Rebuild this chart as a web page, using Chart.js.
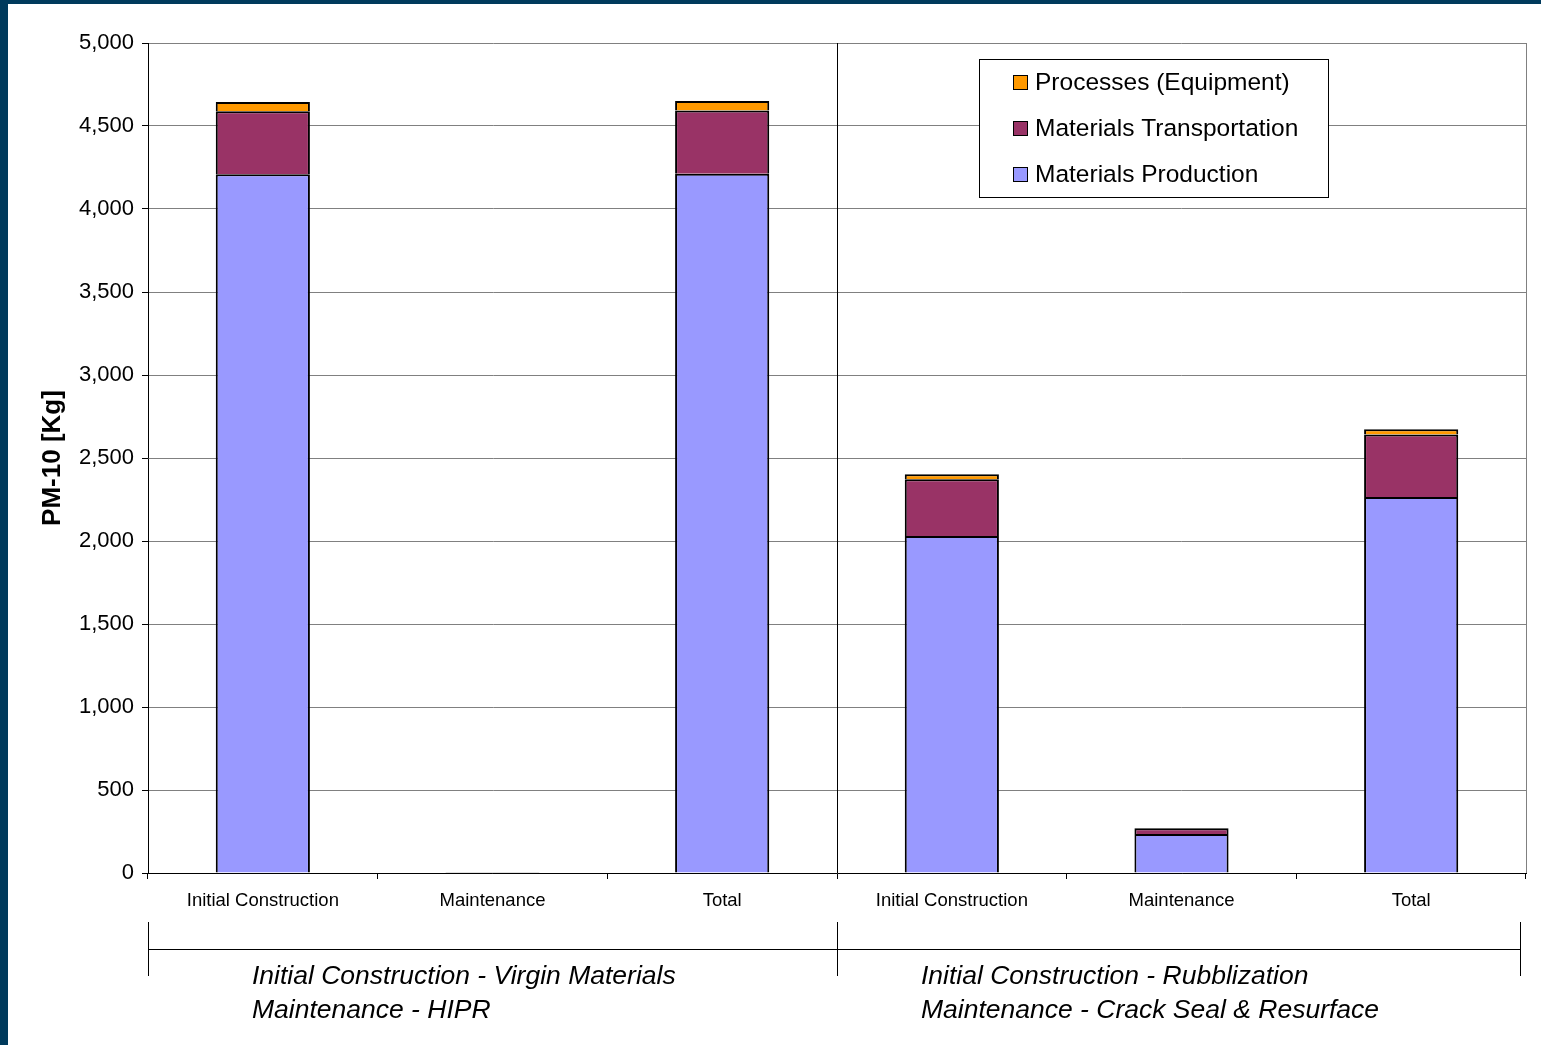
<!DOCTYPE html>
<html lang="en">

<head>
    <meta charset="UTF-8">
    <title>PM-10 Emissions by Phase</title>
    <script src="https://cdn.jsdelivr.net/npm/chart.js@4.4.0/dist/chart.umd.min.js"></script>
    <style>
        html, body {
            margin: 0;
            padding: 0;
            background-color: #003a5c;
            overflow: hidden;
        }

        .frame {
            position: absolute;
            left: 8px;
            top: 4px;
            width: 1533px;
            height: 1041px;
            background-color: #ffffff;
        }
    </style>
</head>

<body>
    <div class="frame">
        <canvas id="pmChart" width="1533" height="1041"></canvas>
    </div>

    <script>
        // categories along the x axis (two scenarios, three phases each)
        const categories = ['Initial Construction', 'Maintenance', 'Total',
            'Initial Construction', 'Maintenance', 'Total'];

        // PM-10 in kg, stacked bottom to top
        const materialsProduction = [4209, 3, 4212, 2030, 235, 2265];
        const materialsTransportation = [380, 2, 382, 342, 34, 376];
        const processesEquipment = [55, 1, 56, 30, 2, 32];

        const yTicks = [0, 500, 1000, 1500, 2000, 2500, 3000, 3500, 4000, 4500, 5000];

        const groupLabels = [
            ['Initial Construction - Virgin Materials', 'Maintenance - HIPR'],
            ['Initial Construction - Rubblization', 'Maintenance - Crack Seal & Resurface']
        ];

        const FONT = "'Liberation Sans', Arial, sans-serif";

        // divider, right border, group brackets, axis title and legend
        const extras = {
            id: 'extras',
            afterDraw(chart) {
                const ctx = chart.ctx;
                const area = chart.chartArea;
                const x = chart.scales.x;
                const mid = (x.getPixelForValue(2) + x.getPixelForValue(3)) / 2;

                ctx.save();
                // right border of the plot
                ctx.strokeStyle = '#808080';
                ctx.lineWidth = 1;
                ctx.beginPath();
                ctx.moveTo(area.right + 0.5, area.top);
                ctx.lineTo(area.right + 0.5, area.bottom);
                ctx.stroke();

                // scenario divider
                ctx.strokeStyle = '#000000';
                ctx.beginPath();
                ctx.moveTo(Math.round(mid) + 0.5, area.top);
                ctx.lineTo(Math.round(mid) + 0.5, area.bottom);
                ctx.stroke();

                // group brackets under the axis
                const by = 945.5;
                const bx = [area.left, Math.round(mid), area.right - 6];
                ctx.beginPath();
                ctx.moveTo(bx[0], by);
                ctx.lineTo(bx[2], by);
                bx.forEach(px => {
                    ctx.moveTo(px + 0.5, 918);
                    ctx.lineTo(px + 0.5, 972);
                });
                ctx.stroke();

                ctx.fillStyle = '#000000';
                ctx.font = 'italic 26.5px ' + FONT;
                ctx.textAlign = 'left';
                ctx.textBaseline = 'alphabetic';
                const gx = [area.left + 104, Math.round(mid) + 84];
                groupLabels.forEach((lines, i) => {
                    ctx.fillText(lines[0], gx[i], 980);
                    ctx.fillText(lines[1], gx[i], 1014);
                });

                // y axis title
                ctx.save();
                ctx.translate(45, (area.top + area.bottom) / 2);
                ctx.rotate(-Math.PI / 2);
                ctx.font = 'bold 26px ' + FONT;
                ctx.textAlign = 'center';
                ctx.textBaseline = 'middle';
                ctx.fillText('PM-10 [Kg]', 0, 0);
                ctx.restore();

                // legend box, top dataset first
                const lx = 971.5, ly = 55.5, lw = 349, lh = 138;
                ctx.fillStyle = '#ffffff';
                ctx.fillRect(lx, ly, lw, lh);
                ctx.strokeStyle = '#000000';
                ctx.strokeRect(lx, ly, lw, lh);
                ctx.font = '24.5px ' + FONT;
                ctx.textAlign = 'left';
                const items = chart.data.datasets.slice().reverse();
                items.forEach((ds, i) => {
                    const rowY = 86 + i * 46;
                    ctx.fillStyle = ds.backgroundColor;
                    ctx.fillRect(1005.5, rowY - 14.5, 14, 14);
                    ctx.strokeStyle = '#000000';
                    ctx.strokeRect(1005.5, rowY - 14.5, 14, 14);
                    ctx.fillStyle = '#000000';
                    ctx.fillText(ds.label, 1027, rowY);
                });
                ctx.restore();
            }
        };

        const ctx = document.getElementById('pmChart').getContext('2d');
        const pmChart = new Chart(ctx, {
            type: 'bar',
            data: {
                labels: categories,
                datasets: [{
                    label: 'Materials Production',
                    data: materialsProduction,
                    backgroundColor: '#9999ff'
                }, {
                    label: 'Materials Transportation',
                    data: materialsTransportation,
                    backgroundColor: '#993366'
                }, {
                    label: 'Processes (Equipment)',
                    data: processesEquipment,
                    backgroundColor: '#ff9900'
                }]
            },
            options: {
                responsive: false,
                animation: false,
                datasets: {
                    bar: {
                        borderColor: '#000000',
                        borderWidth: 2,
                        // tiny segments keep their full outline so they still show
                        borderSkipped: c => (c.raw < 10 ? false : 'start'),
                        categoryPercentage: 1,
                        barPercentage: 0.41
                    }
                },
                layout: {
                    padding: { left: 0, right: 15, top: 39, bottom: 0 }
                },
                plugins: {
                    legend: { display: false },
                    tooltip: { enabled: false }
                },
                scales: {
                    x: {
                        stacked: true,
                        grid: {
                            offset: true,
                            drawOnChartArea: false,
                            drawTicks: true,
                            tickLength: 6,
                            color: '#000000'
                        },
                        border: { color: '#000000' },
                        ticks: {
                            color: '#000000',
                            font: { family: FONT, size: 18.5 },
                            padding: 11,
                            maxRotation: 0
                        },
                        afterFit(scale) {
                            scale.height = 172;
                        }
                    },
                    y: {
                        stacked: true,
                        min: 0,
                        max: 5000,
                        afterBuildTicks(scale) {
                            scale.ticks = yTicks.map(v => ({ value: v }));
                        },
                        grid: {
                            color: '#808080',
                            tickColor: '#000000',
                            tickLength: 6
                        },
                        border: { color: '#000000' },
                        ticks: {
                            color: '#000000',
                            font: { family: FONT, size: 22 },
                            padding: 8,
                            callback: v => v.toLocaleString('en-US')
                        },
                        afterFit(scale) {
                            scale.width = 140;
                        }
                    }
                }
            },
            plugins: [extras]
        });
    </script>
</body>

</html>
